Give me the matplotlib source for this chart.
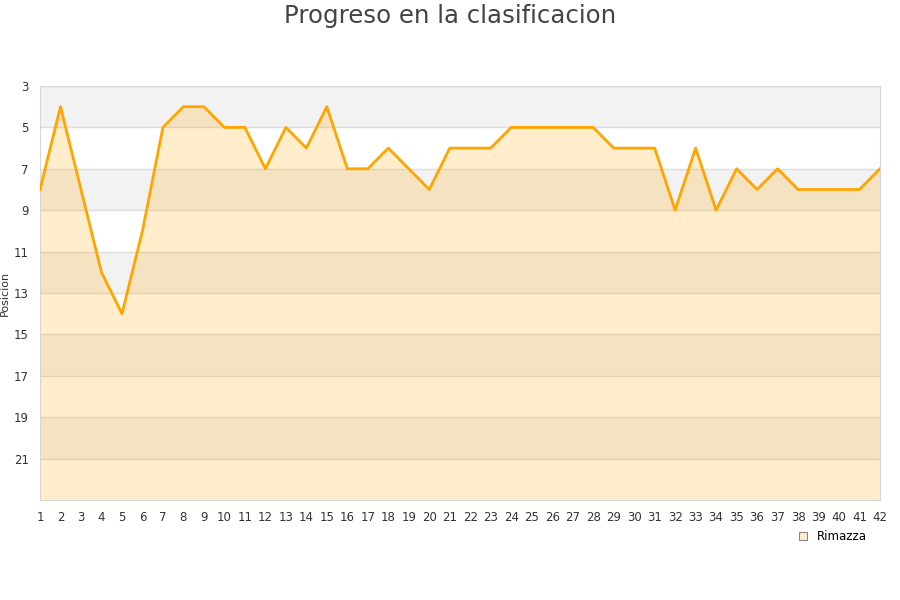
import numpy as np
import matplotlib.pyplot as plt
from matplotlib.patches import Patch

# datos: jornada y posicion en la clasificacion
jornadas = list(range(1, 43))
posiciones = [8, 4, 8, 12, 14, 10, 5, 4, 4, 5,
              5, 7, 5, 6, 4, 7, 7, 6, 7, 8,
              6, 6, 6, 5, 5, 5, 5, 5, 6, 6,
              6, 9, 6, 9, 7, 8, 7, 8, 8, 8,
              8, 7]
equipo = "Rimazza"
ticks_y = [3, 5, 7, 9, 11, 13, 15, 17, 19, 21]

fig = plt.figure(figsize=(9, 6), dpi=100)
ax = fig.add_axes([40 / 900, 100 / 600, 840 / 900, 414 / 600])

y_min, y_max = 3, 23
# bandas alternas del fondo
for b in range(y_min, y_max, 4):
    ax.axhspan(b, b + 2, color="#f2f2f2", zorder=0, lw=0)
for t in ticks_y:
    ax.axhline(t, color="#dddddd", lw=1, zorder=1)

ax.fill_between(jornadas, posiciones, y_max, color="#ffa500", alpha=0.2, lw=0, zorder=2)
ax.plot(jornadas, posiciones, color="#ffa500", lw=2, zorder=3)

ax.set_xlim(1, 42)
ax.set_ylim(y_max, y_min)
ax.set_xticks(jornadas)
ax.set_yticks(ticks_y)
ax.tick_params(length=0, labelsize=8.5, colors="#333333", pad=8)
for s in ax.spines.values():
    s.set_color("#d6d6d6")

ax.set_ylabel("Posicion", fontsize=8, color="#333333")
ax.yaxis.set_label_coords(-0.0357, 0.5)
fig.text(0.5, 0.993, "Progreso en la clasificacion", ha="center", va="top",
         fontsize=17.6, color="#444444")

ax.legend(handles=[Patch(facecolor="#ffeecc", edgecolor="#888888", lw=0.8, label=equipo)],
          loc="upper right", bbox_to_anchor=(0.997, -0.048), frameon=False,
          fontsize=8.5, handlelength=0.7, handleheight=0.7, handletextpad=0.8)

plt.savefig("out.png")
